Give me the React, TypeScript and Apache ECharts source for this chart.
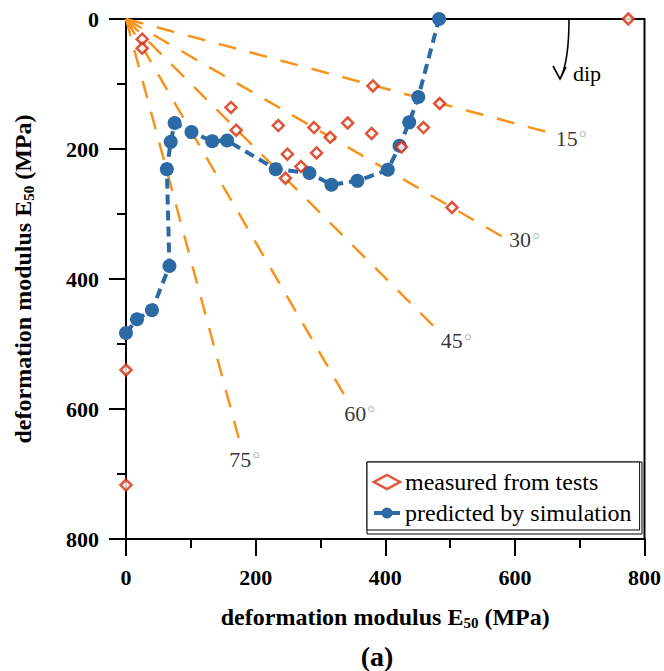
import React, { useEffect, useRef } from 'react';
import * as echarts from 'echarts';

// measured from tests (x: E50 horizontal, y: E50 vertical, MPa)
const measuredX = [25, 25, 381, 162, 170, 235, 290, 342, 315, 379, 249, 294, 270, 246, 775, 484, 459, 425, 503, 0, 0];
const measuredY = [31, 45, 103, 136, 171, 164, 167, 160, 182, 176, 208, 206, 227, 245, 0, 130, 167, 197, 290, 540, 717];

// predicted by simulation
const predictedX = [0, 17, 40, 67, 63, 69, 75, 101, 133, 156, 231, 283, 317, 357, 404, 422, 437, 451, 483];
const predictedY = [483, 462, 448, 380, 231, 189, 160, 174, 188, 187, 231, 237, 255, 249, 232, 195, 159, 120, 0];

// dip reference rays from the origin
const dipAngles = ['15', '30', '45', '60', '75'];
const rayEndX = [650, 581, 474, 336, 174];
const rayEndY = [174, 335, 472, 577, 645];

const axisTicks = [0, 200, 400, 600, 800];

const SERIF = "'Liberation Serif', 'Times New Roman', serif";
const ORANGE = '#f7941e';
const BLUE = '#2b6aa5';
const RED = '#d42a0a';

export default function App() {
  const ref = useRef<HTMLDivElement>(null);

  useEffect(() => {
    if (!ref.current) return;
    const chart = echarts.init(ref.current, null, { renderer: 'svg' });

    const labelOffsets = [[8, 6], [6, 3], [7, 15], [0, 19], [-10, 21]];

    const raySeries = dipAngles.map((a, i) => ({
      type: 'line',
      name: 'ray' + a,
      data: [[0, 0], [rayEndX[i], rayEndY[i]]],
      symbol: 'none',
      silent: true,
      z: 1,
      lineStyle: { color: ORANGE, width: 2.5, type: [18, 14] },
    }));

    const nameRich = {
      t: { fontFamily: SERIF, fontWeight: 'bold', fontSize: 24, color: '#000' },
      s: { fontFamily: SERIF, fontWeight: 'bold', fontSize: 15, color: '#000', padding: [12, 0, 0, 0] },
    };
    const axisName = '{t|deformation modulus E}{s|50}{t| (MPa)}';

    const commonAxis = {
      type: 'value',
      min: axisTicks[0],
      max: axisTicks[axisTicks.length - 1],
      interval: axisTicks[1] - axisTicks[0],
      axisLine: { show: true, onZero: false, lineStyle: { color: '#000', width: 2 } },
      axisTick: { show: true, inside: false, length: 17, lineStyle: { color: '#000', width: 2 } },
      minorTick: { show: true, splitNumber: 2, length: 9, lineStyle: { color: '#000', width: 2 } },
      splitLine: { show: false },
      axisLabel: { fontFamily: SERIF, fontWeight: 'bold', fontSize: 22, color: '#000', margin: 27 },
      name: axisName,
      nameLocation: 'middle',
      nameTextStyle: { rich: nameRich },
    };

    const option: any = {
      animation: false,
      backgroundColor: '#fff',
      grid: {
        left: 126, top: 19, width: 520, height: 520,
        show: true, borderColor: '#000', borderWidth: 2, backgroundColor: 'transparent',
      },
      xAxis: { ...commonAxis, position: 'bottom', nameGap: 64 },
      yAxis: { ...commonAxis, inverse: true, position: 'left', nameGap: 90 },
      legend: {
        left: 367, top: 462,
        orient: 'vertical',
        padding: [8, 8, 5, 5],
        itemGap: 7,
        itemWidth: 26,
        itemHeight: 14,
        backgroundColor: '#fff',
        borderColor: '#000',
        borderWidth: 1,
        borderRadius: 0,
        textStyle: { fontFamily: SERIF, fontSize: 24, lineHeight: 24, color: '#000' },
        data: [
          { name: 'measured from tests', itemStyle: { borderWidth: 2.5 } },
          { name: 'predicted by simulation', lineStyle: { type: 'solid', width: 4 } },
        ],
        z: 10,
      },
      graphic: [
        {
          type: 'rect', z: 5,
          shape: { x: 367, y: 462, width: 275, height: 72 },
          style: { fill: 'none', stroke: '#000', lineWidth: 1 },
        },
        {
          type: 'bezierCurve', z: 5,
          shape: { x1: 569, y1: 19, cpx1: 569, cpy1: 62, x2: 560, y2: 79 },
          style: { fill: 'none', stroke: '#000', lineWidth: 1.6 },
        },
        {
          type: 'polyline', z: 5,
          shape: { points: [[553, 66], [560, 79], [566, 67]] },
          style: { fill: 'none', stroke: '#000', lineWidth: 1.6 },
        },
        {
          type: 'text', z: 5, x: 573, y: 73,
          style: { text: 'dip', fontFamily: SERIF, fontSize: 22, fill: '#000', verticalAlign: 'middle' },
        },
        {
          type: 'text', z: 5, x: 377, y: 656,
          style: { text: '(a)', fontFamily: SERIF, fontWeight: 'bold', fontSize: 28, fill: '#000', align: 'center', verticalAlign: 'middle' },
        },
      ],
      series: [
        ...raySeries,
        {
          type: 'scatter',
          name: 'rayLabels',
          silent: true,
          z: 2,
          symbolSize: 1,
          itemStyle: { color: 'rgba(0,0,0,0)' },
          data: dipAngles.map((a, i) => ({
            value: [rayEndX[i], rayEndY[i]],
            label: {
              show: true,
              position: 'right',
              distance: 0,
              offset: labelOffsets[i],
              formatter: '{n|' + a + '}{d|°}',
              rich: {
                n: { fontFamily: SERIF, fontSize: 22, color: '#000' },
                d: { fontFamily: SERIF, fontSize: 20, color: '#aaa', padding: [0, 0, 0, 1] },
              },
            },
          })),
        },
        {
          type: 'line',
          name: 'predicted by simulation',
          data: predictedX.map((x, i) => [x, predictedY[i]]),
          symbol: 'circle',
          symbolSize: 14,
          showSymbol: true,
          z: 3,
          itemStyle: { color: BLUE },
          lineStyle: { color: BLUE, width: 4, type: [10, 6] },
        },
        {
          type: 'scatter',
          name: 'measured from tests',
          data: measuredX.map((x, i) => [x, measuredY[i]]),
          symbol: 'diamond',
          symbolSize: 11,
          z: 4,
          itemStyle: { color: '#fff', borderColor: RED, borderWidth: 2.5 },
        },
      ],
    };

    chart.setOption(option);
    return () => chart.dispose();
  }, []);

  return (
    <div
      ref={ref}
      style={{ position: 'fixed', left: 0, top: 0, width: 664, height: 671, background: '#fff' }}
    />
  );
}
